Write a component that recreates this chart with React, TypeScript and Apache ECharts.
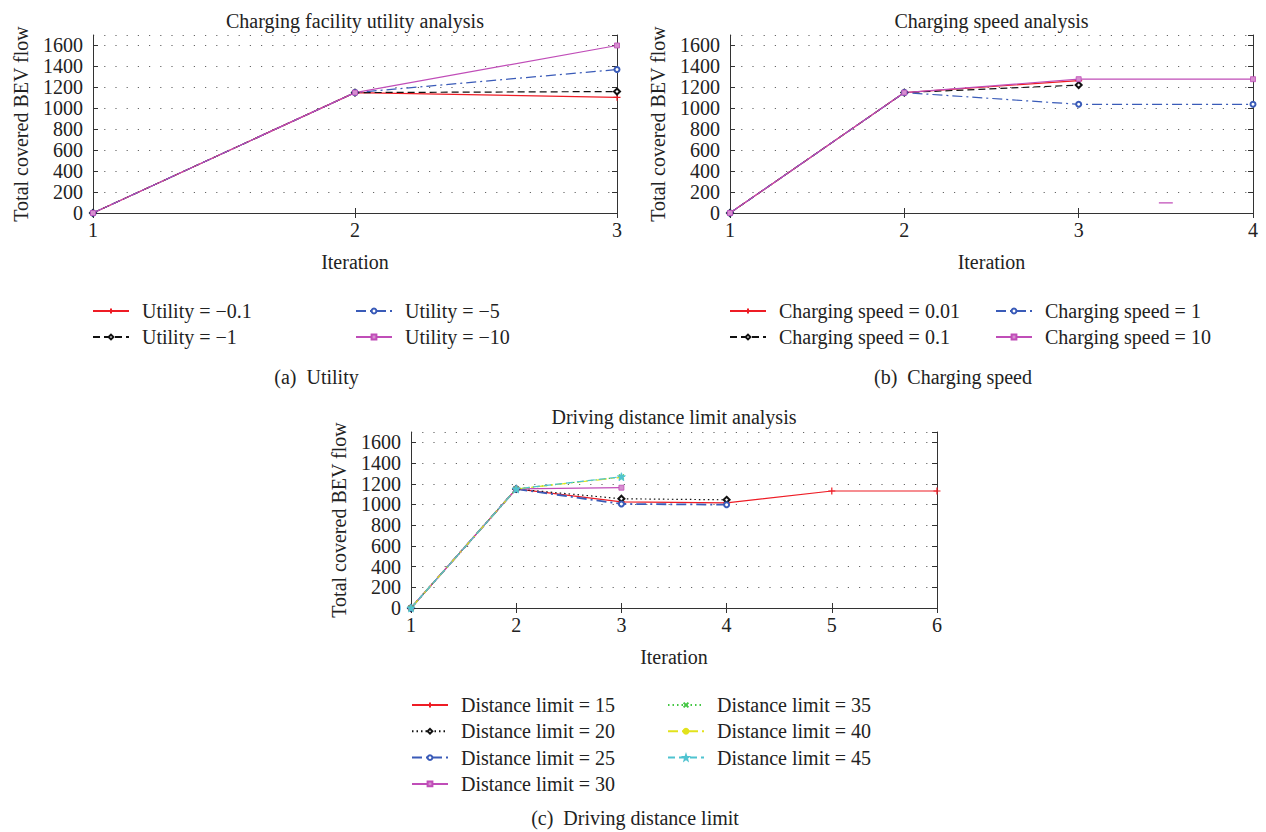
import React, { useEffect, useRef } from 'react';
import * as echarts from 'echarts';

// ---------- data ----------
const iterations = [1, 2, 3, 4, 5, 6];

// (a) Utility
const utilityNames = ['Utility = −0.1', 'Utility = −1', 'Utility = −5', 'Utility = −10'];
const utilityM01 = [0, 1150, 1105];
const utilityM1 = [0, 1150, 1160];
const utilityM5 = [0, 1150, 1370];
const utilityM10 = [0, 1150, 1600];

// (b) Charging speed
const speedNames = ['Charging speed = 0.01', 'Charging speed = 0.1', 'Charging speed = 1', 'Charging speed = 10'];
const speed001 = [0, 1150, 1265];
const speed01 = [0, 1150, 1222];
const speed1 = [0, 1150, 1038, 1038];
const speed10 = [0, 1150, 1278, 1278];
const strayX = [3.46, 3.54];
const strayY = [96, 96];

// (c) Driving distance limit
const distNames = [
  'Distance limit = 15', 'Distance limit = 20', 'Distance limit = 25', 'Distance limit = 30',
  'Distance limit = 35', 'Distance limit = 40', 'Distance limit = 45',
];
const dist15 = [0, 1150, 1025, 1015, 1130, 1130];
const dist20 = [0, 1150, 1055, 1045];
const dist25 = [0, 1150, 1005, 998];
const dist30 = [0, 1150, 1162];
const dist35 = [0, 1150, 1265];
const dist40 = [0, 1150, 1262];
const dist45 = [0, 1150, 1268];

const yTicks = [0, 200, 400, 600, 800, 1000, 1200, 1400, 1600];

const titles = ['Charging facility utility analysis', 'Charging speed analysis', 'Driving distance limit analysis'];
const captions = ['(a)  Utility', '(b)  Charging speed', '(c)  Driving distance limit'];
const xName = 'Iteration';
const yName = 'Total covered BEV flow';

// ---------- styles ----------
const FONT = '"Liberation Serif", "DejaVu Serif", "Times New Roman", serif';
const TXT = '#222';
const RED = '#ee1c25';
const BLACK = '#111111';
const BLUE = '#3a5bb8';
const MAG = '#c04db8';
const GREEN = '#44c744';
const YEL = '#e2e21c';
const CYAN = '#4fc3d0';

const PLUS = 'path://M0,5L10,5M5,0L5,10';
const CROSS = 'path://M0,0L10,10M10,0L0,10';
const STAR = 'path://M5,0L6.2,3.4L9.8,3.5L7,5.7L7.9,9.2L5,7.2L2.1,9.2L3,5.7L0.2,3.5L3.8,3.4Z';

const SOLID: any = 'solid';
const DASH = [7, 4];
const DOT = [1.5, 3];
const DASHDOT = [10, 4, 2, 4];

function pairs(vals: number[], xs: number[] = iterations) {
  return vals.map((v, i) => [xs[i], v]);
}

function makeSeries(
  name: string, vals: number[], idx: number, color: string, type: any,
  symbol: string, symbolSize: number, opts: any = {}
) {
  const empty = symbol.startsWith('empty');
  const isPathStroke = symbol === PLUS || symbol === CROSS;
  return {
    type: 'line',
    name,
    xAxisIndex: idx * 2,
    yAxisIndex: idx * 2,
    data: pairs(vals),
    symbol,
    symbolSize,
    showSymbol: true,
    lineStyle: { color, width: opts.width || 1.2, type },
    itemStyle: {
      color: opts.fill || color,
      borderColor: color,
      borderWidth: isPathStroke ? 1.2 : empty ? 1.2 : 0.8,
    },
    emphasis: { disabled: true },
    z: opts.z || 3,
  };
}

function axesFor(idx: number, xmax: number) {
  const axisLine = { show: true, lineStyle: { color: '#333', width: 1 } };
  const tick = { show: true, inside: true, length: 5, lineStyle: { color: '#333' } };
  const xs = [
    {
      type: 'value', gridIndex: idx, min: 1, max: xmax, interval: 1, position: 'bottom',
      axisLine, axisTick: tick, splitLine: { show: false },
      axisLabel: { fontSize: 20, fontFamily: FONT, color: TXT, margin: 7 },
      name: xName, nameLocation: 'middle', nameGap: 39,
      nameTextStyle: { fontSize: 20, fontFamily: FONT, color: TXT },
    },
    {
      type: 'value', gridIndex: idx, min: 1, max: xmax, interval: 1, position: 'top',
      axisLine, axisTick: tick, splitLine: { show: false }, axisLabel: { show: false },
    },
  ];
  const ys = [
    {
      type: 'value', gridIndex: idx, min: 0, max: 1700, interval: 200, position: 'left',
      axisLine, axisTick: tick,
      splitLine: { show: true, lineStyle: { color: '#666', type: [1.2, 10], width: 1 } },
      axisLabel: {
        fontSize: 20, fontFamily: FONT, color: TXT, margin: 10, showMaxLabel: false,
        formatter: (v: number) => (yTicks.indexOf(v) >= 0 ? String(v) : ''),
      },
      name: yName, nameLocation: 'middle', nameGap: 62, nameRotate: 90,
      nameTextStyle: { fontSize: 20, fontFamily: FONT, color: TXT },
    },
    {
      type: 'value', gridIndex: idx, min: 0, max: 1700, interval: 200, position: 'right',
      axisLine, axisTick: tick, splitLine: { show: false }, axisLabel: { show: false },
    },
  ];
  return { xs, ys };
}

function legend(data: string[], left: number, top: number, gap: number) {
  return {
    data,
    left,
    top,
    orient: 'vertical',
    padding: 0,
    itemGap: gap,
    itemWidth: 36,
    itemHeight: 6,
    selectedMode: false,
    textStyle: {
      fontSize: 20, fontFamily: FONT, color: TXT, lineHeight: 20,
      padding: [0, 0, 0, 8],
    },
  };
}

function text(str: string, x: number, y: number) {
  return {
    type: 'text', x, y,
    style: {
      text: str, fontSize: 20, fontFamily: FONT, fill: TXT,
      align: 'center', verticalAlign: 'middle',
    },
  };
}

export default function App() {
  const ref = useRef<HTMLDivElement>(null);
  useEffect(() => {
    if (!ref.current) return;
    const chart = echarts.init(ref.current, undefined, { renderer: 'svg' });
    const a = axesFor(0, 3);
    const b = axesFor(1, 4);
    const c = axesFor(2, 6);

    const series: any[] = [
      // (a)
      makeSeries(utilityNames[0], utilityM01, 0, RED, SOLID, PLUS, 7),
      makeSeries(utilityNames[1], utilityM1, 0, BLACK, DASH, 'emptyDiamond', 6),
      makeSeries(utilityNames[2], utilityM5, 0, BLUE, DASHDOT, 'emptyCircle', 5),
      makeSeries(utilityNames[3], utilityM10, 0, MAG, SOLID, 'rect', 5, { fill: '#d68fcf' }),
      // (b)
      makeSeries(speedNames[0], speed001, 1, RED, SOLID, PLUS, 7),
      makeSeries(speedNames[1], speed01, 1, BLACK, DASH, 'emptyDiamond', 6),
      makeSeries(speedNames[2], speed1, 1, BLUE, DASHDOT, 'emptyCircle', 5),
      makeSeries(speedNames[3], speed10, 1, MAG, SOLID, 'rect', 5, { fill: '#d68fcf' }),
      {
        type: 'line', name: 'stray', xAxisIndex: 2, yAxisIndex: 2,
        data: pairs(strayY, strayX), symbol: 'none',
        lineStyle: { color: MAG, width: 1.2 }, emphasis: { disabled: true },
      },
      // (c)
      makeSeries(distNames[0], dist15, 2, RED, SOLID, PLUS, 7),
      makeSeries(distNames[1], dist20, 2, BLACK, DOT, 'emptyDiamond', 6),
      makeSeries(distNames[2], dist25, 2, BLUE, DASHDOT, 'emptyCircle', 5, { width: 1.8 }),
      makeSeries(distNames[3], dist30, 2, MAG, SOLID, 'rect', 5, { fill: '#d68fcf' }),
      makeSeries(distNames[4], dist35, 2, GREEN, DOT, CROSS, 5),
      makeSeries(distNames[5], dist40, 2, YEL, DASHDOT, 'circle', 3),
      makeSeries(distNames[6], dist45, 2, CYAN, DASH, STAR, 8),
    ];

    chart.setOption({
      animation: false,
      backgroundColor: '#ffffff',
      textStyle: { fontFamily: FONT },
      grid: [
        { left: 93, top: 35, width: 524, height: 178, show: false },
        { left: 730, top: 35, width: 523, height: 178, show: false },
        { left: 411, top: 432, width: 526, height: 176, show: false },
      ],
      xAxis: [...a.xs, ...b.xs, ...c.xs],
      yAxis: [...a.ys, ...b.ys, ...c.ys],
      legend: [
        legend([utilityNames[0], utilityNames[1]], 92, 301, 6),
        legend([utilityNames[2], utilityNames[3]], 355, 301, 6),
        legend([speedNames[0], speedNames[1]], 729, 301, 6),
        legend([speedNames[2], speedNames[3]], 995, 301, 6),
        legend(distNames.slice(0, 4), 411, 695, 6.3),
        legend(distNames.slice(4), 667, 695, 6.3),
      ],
      graphic: [
        text(titles[0], 355, 21),
        text(titles[1], 991.5, 21),
        text(titles[2], 674, 417),
        text(captions[0], 316.5, 377),
        text(captions[1], 953, 377),
        text(captions[2], 635, 818),
      ],
      series,
    });
    return () => chart.dispose();
  }, []);
  return (
    <div
      ref={ref}
      style={{ position: 'fixed', left: 0, top: 0, width: 1266, height: 832, background: '#fff' }}
    />
  );
}
